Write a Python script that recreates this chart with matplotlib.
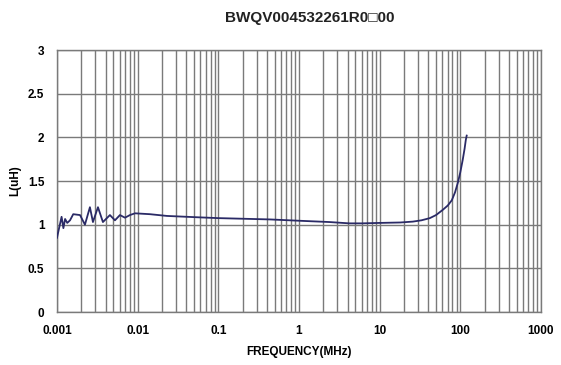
import matplotlib
matplotlib.use('Agg')
import matplotlib.pyplot as plt
from matplotlib.ticker import FixedLocator, FixedFormatter, NullFormatter
import numpy as np

# measured inductance curve (frequency in MHz, L in uH)
freq = [0.00100, 0.00103, 0.00114, 0.00120, 0.00126, 0.00134, 0.00145, 0.00159,
        0.00193, 0.00222, 0.00256, 0.00279, 0.00322, 0.00371, 0.00453, 0.00523,
        0.00603, 0.00696, 0.00802, 0.00926, 0.0142, 0.0231, 0.0541, 0.1, 0.436,
        1.0, 2.4, 4.2, 6.0, 10.0, 18.0, 25.8, 33.0, 41.9, 50.0, 60.7, 70.0,
        78.5, 86.0, 93.2, 100.0, 107.0, 113.0, 117.0, 120.0]
ind = [0.85, 0.905, 1.09, 0.96, 1.065, 1.02, 1.05, 1.12,
       1.11, 1.00, 1.20, 1.03, 1.20, 1.03, 1.11, 1.05,
       1.11, 1.08, 1.11, 1.13, 1.12, 1.10, 1.085, 1.075, 1.06,
       1.045, 1.03, 1.015, 1.015, 1.02, 1.025, 1.035, 1.05, 1.075, 1.11, 1.17, 1.22,
       1.28, 1.37, 1.48, 1.60, 1.74, 1.87, 1.97, 2.02]

xticks = [0.001, 0.01, 0.1, 1, 10, 100, 1000]
xlabels = ['0.001', '0.01', '0.1', '1', '10', '100', '1000']
yticks = [0, 0.5, 1, 1.5, 2, 2.5, 3]
ylabels = ['0', '0.5', '1', '1.5', '2', '2.5', '3']

plt.rcParams['font.family'] = ['Liberation Sans', 'DejaVu Sans']
plt.rcParams['font.weight'] = 'bold'

fig = plt.figure(figsize=(5.61, 3.65), dpi=100)
ax = fig.add_axes([0.1016, 0.1452, 0.8627, 0.7178])

ax.plot(freq, ind, color='#2a2a66', linewidth=1.3, zorder=3)

ax.set_xscale('log')
ax.set_xlim(0.001, 1000)
ax.set_ylim(0, 3)

minors = [m * 10.0 ** e for e in range(-3, 3) for m in range(2, 10)]
ax.xaxis.set_major_locator(FixedLocator(xticks))
ax.xaxis.set_major_formatter(FixedFormatter(xlabels))
ax.xaxis.set_minor_locator(FixedLocator(minors))
ax.xaxis.set_minor_formatter(NullFormatter())
ax.set_yticks(yticks)
ax.set_yticklabels(ylabels)

ax.grid(True, which='both', axis='x', color='#7a7a7a', linewidth=1.0)
ax.grid(True, which='major', axis='y', color='#7a7a7a', linewidth=1.0)
ax.tick_params(which='both', length=0, labelsize=8.5, pad=9)
for s in ax.spines.values():
    s.set_color('#7a7a7a')
    s.set_linewidth(1.0)

ax.set_xlabel('FREQUENCY(MHz)', fontsize=8.5, fontweight='bold', labelpad=7)
ax.set_ylabel('L(uH)', fontsize=8.5, fontweight='bold', labelpad=5)
fig.text(0.553, 0.95, 'BWQV004532261R0\u25a100', ha='center', va='center',
         fontsize=11, fontweight='bold', color='#222222')

fig.savefig('out.png', dpi=100)
